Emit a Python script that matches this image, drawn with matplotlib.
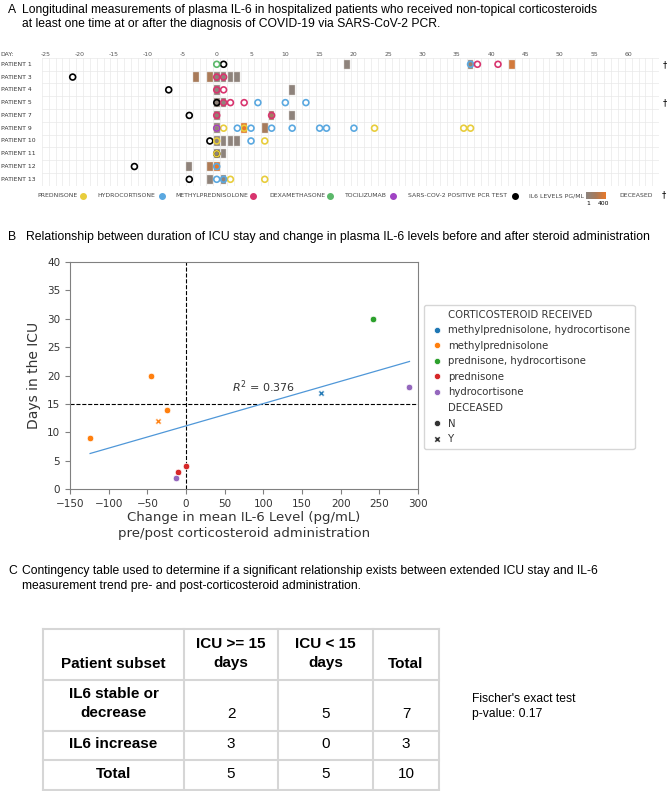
import matplotlib
matplotlib.use("Agg")
import matplotlib.pyplot as plt
import matplotlib.transforms as mtransforms
import numpy as np
from matplotlib.colors import LinearSegmentedColormap, Normalize
from matplotlib.lines import Line2D
from matplotlib.patches import Rectangle

W, H = 667, 791
SANS = ["Liberation Sans", "DejaVu Sans"]
SMALL = 4.4  # tiny caps text of panel A

# ---------------- panel A data ----------------
patients = ["PATIENT 1", "PATIENT 3", "PATIENT 4", "PATIENT 5", "PATIENT 7",
            "PATIENT 9", "PATIENT 10", "PATIENT 11", "PATIENT 12", "PATIENT 13"]
day_ticks = list(range(-25, 61, 5))

# IL-6 measurements (row index into patients, day, pg/mL)
il6_row = [0, 0, 0,
           1, 1, 1, 1, 1, 1,
           2, 2,
           3, 3,
           4, 4, 4,
           5, 5, 5,
           6, 6, 6, 6,
           7, 7,
           8, 8, 8,
           9, 9]
il6_day = [19, 37, 43,
           -3, -1, 0, 1, 2, 3,
           0, 11,
           0, 1,
           0, 8, 11,
           0, 4, 7,
           0, 1, 2, 3,
           0, 1,
           -4, -1, 0,
           -1, 1]
il6_level = [20, 90, 330,
             200, 210, 30, 25, 20, 20,
             25, 20,
             30, 25,
             60, 160, 20,
             30, 400, 190,
             20, 20, 20, 20,
             20, 15,
             25, 220, 400,
             30, 25]

pred_row = [5, 5, 5, 5, 5, 5, 6, 6, 7, 9, 9]
pred_day = [0, 1, 4, 23, 36, 37, 0, 7, 0, 2, 7]
hydro_row = [0, 3, 3, 3, 5, 5, 5, 5, 5, 5, 5, 6, 8, 9, 9]
hydro_day = [37, 6, 10, 13, 3, 5, 8, 11, 15, 16, 20, 5, 0, 0, 1]
methyl_row = [0, 0, 1, 1, 2, 2, 3, 3, 3, 4, 4]
methyl_day = [38, 41, 0, 1, 0, 1, 1, 2, 4, 0, 8]
dexa_row = [0]
dexa_day = [0]
toci_row = [5]
toci_day = [0]
pcr_row = [0, 1, 2, 3, 4, 6, 7, 8, 9]
pcr_day = [1, -21, -7, 0, -4, -1, 0, -12, -4]
deceased_row = [0, 3]

drug_names = ["PREDNISONE", "HYDROCORTISONE", "METHYLPREDNISOLONE", "DEXAMETHASONE",
              "TOCILIZUMAB", "SARS-COV-2 POSITIVE PCR TEST"]
drug_colors = ["#e8cd3c", "#5aa8e0", "#d8346e", "#5bb86a", "#a043c4", "#000000"]

# ---------------- panel B data ----------------
il6_change = [-124, -45, -36, -25, -13, -10, 0, 174, 242, 289]
icu_days = [9, 20, 12, 14, 2, 3, 4, 17, 30, 18]
steroid = ["methylprednisolone", "methylprednisolone", "methylprednisolone",
           "methylprednisolone", "hydrocortisone", "prednisone", "prednisone",
           "methylprednisolone, hydrocortisone", "prednisone, hydrocortisone",
           "hydrocortisone"]
died = ["N", "N", "Y", "N", "N", "N", "N", "Y", "N", "N"]
steroid_order = ["methylprednisolone, hydrocortisone", "methylprednisolone",
                 "prednisone, hydrocortisone", "prednisone", "hydrocortisone"]
steroid_colors = ["#1f77b4", "#ff7f0e", "#2ca02c", "#d62728", "#9467bd"]

# ---------------- panel C data ----------------
table_header = ["Patient subset", "ICU >= 15\ndays", "ICU < 15\ndays", "Total"]
table_rows = ["IL6 stable or\ndecrease", "IL6 increase", "Total"]
table_counts = [[2, 5, 7], [3, 0, 3], [5, 5, 10]]


def frect(x0, y0, x1, y1):
    return [x0 / W, 1 - y1 / H, (x1 - x0) / W, (y1 - y0) / H]


fig = plt.figure(figsize=(W / 100, H / 100), dpi=100)
bg = fig.add_axes([0, 0, 1, 1])
bg.set_xlim(0, W)
bg.set_ylim(H, 0)
bg.axis("off")

# ---------------- A ----------------
bg.text(8, 10, "A", fontsize=8.7, family=SANS, va="center")
bg.text(22, 10, "Longitudinal measurements of plasma IL-6 in hospitalized patients who received "
        "non-topical corticosteroids", fontsize=8.7, family=SANS, va="center")
bg.text(22, 24, "at least one time at or after the diagnosis of COVID-19 via SARS-CoV-2 PCR.",
        fontsize=8.7, family=SANS, va="center")

cmap = LinearSegmentedColormap.from_list("il6", ["#8b847f", "#a97b5a", "#e8782a"])
norm = Normalize(1, 400)

axA = fig.add_axes(frect(41.8, 57.9, 659.2, 185.7))
axA.set_xlim(-25.5, 64.5)
axA.set_ylim(len(patients) - 0.5, -0.5)
axA.axis("off")
for d in np.arange(-25.5, 65, 1):
    axA.axvline(d, color="#e9e9e9", lw=0.5, zorder=0)
for r in np.arange(-0.5, len(patients), 1):
    axA.axhline(r, color="#e9e9e9", lw=0.5, zorder=0)

for r, d, v in zip(il6_row, il6_day, il6_level):
    axA.add_patch(Rectangle((d - 0.42, r - 0.37), 0.84, 0.74, facecolor=cmap(norm(v)),
                            edgecolor="#d8d2cc", lw=0.3, zorder=2))

events = [(pcr_day, pcr_row, drug_colors[5]), (pred_day, pred_row, drug_colors[0]),
          (hydro_day, hydro_row, drug_colors[1]), (methyl_day, methyl_row, drug_colors[2]),
          (dexa_day, dexa_row, drug_colors[3]), (toci_day, toci_row, drug_colors[4])]
for days, rows, col in events:
    axA.scatter(days, rows, s=18, facecolors="none", edgecolors=col, linewidths=1.2, zorder=3)

for r in deceased_row:
    axA.text(65.3, r, "\u2020", fontsize=6, ha="center", va="center", clip_on=False)

for d in day_ticks:
    axA.text(d, 1.025, str(d), transform=axA.get_xaxis_transform(), fontsize=SMALL,
             color="#555555", ha="center", va="center")
axA.text(0.001, 1.025, "DAY:",
         transform=mtransforms.blended_transform_factory(fig.transFigure, axA.transAxes),
         fontsize=SMALL, color="#444444", va="center")
lab_tr = mtransforms.blended_transform_factory(fig.transFigure, axA.transData)
for i, p in enumerate(patients):
    axA.text(0.001, i, p, transform=lab_tr, fontsize=SMALL, color="#333333", va="center")

# legend row of panel A
leg_y = 195.5
text_x = [37.6, 97.4, 175.2, 269.2, 345.3, 408.1]
dot_x = [83.3, 161.5, 253.4, 330.3, 393.2, 515.0]
for name, col, tx, dx in zip(drug_names, drug_colors, text_x, dot_x):
    bg.text(tx, leg_y, name, fontsize=SMALL, color="#444444", va="center")
    bg.plot(dx, leg_y, "o", ms=4, color=col)
bg.text(529, leg_y, "IL6 LEVELS PG/ML", fontsize=SMALL, color="#444444", va="center")
axCb = fig.add_axes(frect(586, 192, 606, 199))
axCb.imshow(np.linspace(0, 1, 64)[None, :], cmap=cmap, aspect="auto")
axCb.axis("off")
bg.text(588, 203.5, "1", fontsize=SMALL, ha="center", va="center")
bg.text(603, 203.5, "400", fontsize=SMALL, ha="center", va="center")
bg.text(619, leg_y, "DECEASED", fontsize=SMALL, color="#444444", va="center")
bg.text(664, leg_y - 0.5, "\u2020", fontsize=6, ha="center", va="center")

# ---------------- B ----------------
bg.text(8, 237, "B", fontsize=8.8, family=SANS, va="center")
bg.text(26, 237, "Relationship between duration of ICU stay and change in plasma IL-6 levels "
        "before and after steroid administration", fontsize=8.8, family=SANS, va="center")

axB = fig.add_axes(frect(70, 262, 418, 489))
x = np.array(il6_change, dtype=float)
y = np.array(icu_days, dtype=float)
for name, col in zip(steroid_order, steroid_colors):
    for status, mk in (("N", "o"), ("Y", "X")):
        idx = [i for i in range(len(x)) if steroid[i] == name and died[i] == status]
        if idx:
            axB.scatter(x[idx], y[idx], s=22 if mk == "o" else 20, color=col, marker=mk,
                        edgecolors="white", linewidths=0.5, zorder=3)
slope, icpt = np.polyfit(x, y, 1)
xs = np.array([x.min(), x.max()])
axB.plot(xs, slope * xs + icpt, color="#4f97d8", lw=0.9, zorder=2)
axB.axhline(15, color="black", ls="--", lw=0.8, zorder=1)
axB.axvline(0, color="black", ls="--", lw=0.8, zorder=1)
axB.text(60, 18, r"$R^2$ = 0.376", fontsize=8, color="#333333", va="center")
axB.set_xlim(-150, 300)
axB.set_ylim(0, 40)
axB.set_xticks(np.arange(-150, 301, 50))
axB.set_yticks(np.arange(0, 41, 5))
for s in axB.spines.values():
    s.set_color("#808080")
axB.tick_params(labelsize=7.5, colors="#333333", color="#808080", length=3.5)
axB.set_ylabel("Days in the ICU", fontsize=10, color="#333333", labelpad=4)
axB.set_xlabel("Change in mean IL-6 Level (pg/mL)\npre/post corticosteroid administration",
               fontsize=9.5, color="#333333", labelpad=2, linespacing=1.2)

handles = [Line2D([], [], ls="none", label="CORTICOSTEROID RECEIVED")]
for name, col in zip(steroid_order, steroid_colors):
    handles.append(Line2D([], [], ls="none", marker="o", ms=4.5, color=col, mec="white",
                          mew=0.5, label=name))
handles.append(Line2D([], [], ls="none", label="DECEASED"))
handles.append(Line2D([], [], ls="none", marker="o", ms=4.5, color="#333333", mec="white",
                      mew=0.5, label="N"))
handles.append(Line2D([], [], ls="none", marker="X", ms=4.5, color="#333333", mec="white",
                      mew=0.5, label="Y"))
leg = axB.legend(handles=handles, loc="upper left", bbox_to_anchor=(424 / W, 1 - 305 / H),
                 bbox_transform=fig.transFigure, borderaxespad=0, fontsize=7.3,
                 labelspacing=0.55, handletextpad=0.3, handlelength=1.6, borderpad=0.45,
                 frameon=True)
for t in leg.get_texts():
    t.set_color("#333333")

# ---------------- C ----------------
bg.text(8, 571, "C", fontsize=8.7, family=SANS, va="center")
bg.text(22, 571, "Contingency table used to determine if a significant relationship exists "
        "between extended ICU stay and IL-6", fontsize=8.7, family=SANS, va="center")
bg.text(22, 585.5, "measurement trend pre- and post-corticosteroid administration.",
        fontsize=8.7, family=SANS, va="center")

col_edges = [43, 184, 278, 373, 439]
row_edges = [629, 680, 731, 760, 790]
for cx in col_edges:
    bg.plot([cx, cx], [row_edges[0], row_edges[-1]], color="#d6d6d6", lw=1.5)
for ry in row_edges:
    bg.plot([col_edges[0], col_edges[-1]], [ry, ry], color="#d6d6d6", lw=1.5)
col_mid = [(a + b) / 2 for a, b in zip(col_edges[:-1], col_edges[1:])]

for cx, lab in zip(col_mid, table_header):
    yy = 653.5 if "\n" in lab else 664
    bg.text(cx, yy, lab, fontsize=11, family=SANS, weight="bold", ha="center", va="center",
            linespacing=1.5)
row_text_y = [(703.5, 714), (744, 744), (774, 774)]
for (ly, ny), lab, vals in zip(row_text_y, table_rows, table_counts):
    bg.text(col_mid[0], ly, lab, fontsize=11, family=SANS, weight="bold", ha="center",
            va="center", linespacing=1.5)
    for cx, v in zip(col_mid[1:], vals):
        bg.text(cx, ny, str(v), fontsize=11, family=SANS, ha="center", va="center")

bg.text(472, 699.5, "Fischer's exact test", fontsize=8.7, family=SANS, va="center")
bg.text(472, 714, "p-value: 0.17", fontsize=8.7, family=SANS, va="center")

fig.savefig("out.png", dpi=100)
